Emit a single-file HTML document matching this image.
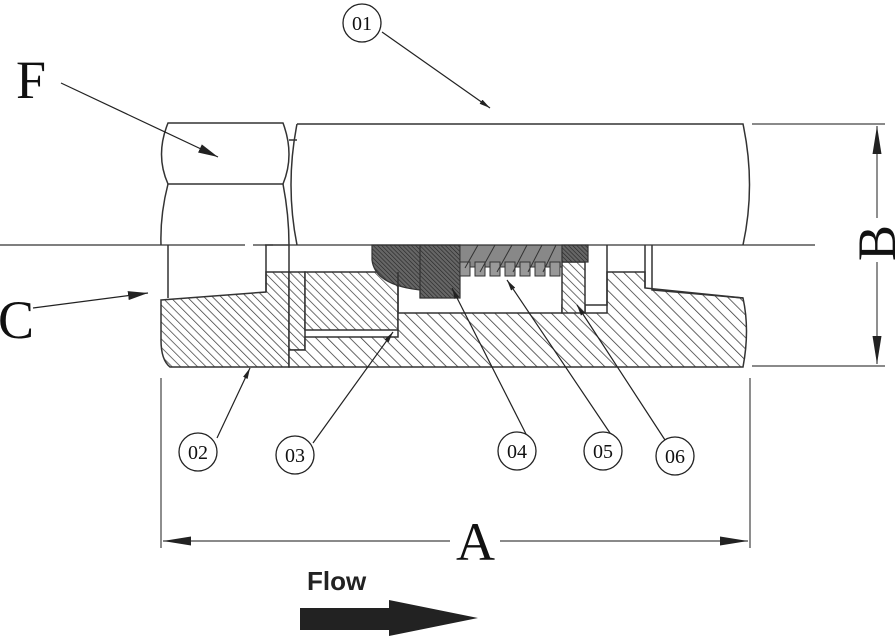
<!DOCTYPE html>
<html><head><meta charset="utf-8"><style>
html,body{margin:0;padding:0;background:#fff;}
svg{display:block;}
</style></head><body>
<svg width="895" height="637" viewBox="0 0 895 637" xmlns="http://www.w3.org/2000/svg">
<defs>
<pattern id="h2" patternUnits="userSpaceOnUse" width="6" height="6" patternTransform="rotate(-45)">
<rect width="6" height="6" fill="#fff"/><line x1="0" y1="0" x2="0" y2="6" stroke="#333" stroke-width="1.4"/></pattern>
<pattern id="h3" patternUnits="userSpaceOnUse" width="8" height="8" patternTransform="rotate(-45)">
<rect width="8" height="8" fill="#fff"/><line x1="0" y1="0" x2="0" y2="8" stroke="#333" stroke-width="1.5"/></pattern>
<pattern id="hd" patternUnits="userSpaceOnUse" width="3" height="3" patternTransform="rotate(-45)">
<rect width="3" height="3" fill="#666"/><line x1="0" y1="0" x2="0" y2="3" stroke="#222" stroke-width="1.2"/></pattern>
<marker id="ar" viewBox="0 0 10 10" refX="10" refY="5" markerWidth="28" markerHeight="9" markerUnits="userSpaceOnUse" orient="auto-start-reverse" preserveAspectRatio="none"><path d="M0,0 L10,5 L0,10 z" fill="#222"/></marker>
<marker id="am" viewBox="0 0 10 10" refX="10" refY="5" markerWidth="20" markerHeight="9" markerUnits="userSpaceOnUse" orient="auto" preserveAspectRatio="none"><path d="M0,0 L10,5 L0,10 z" fill="#222"/></marker>
<marker id="as" viewBox="0 0 10 10" refX="10" refY="5" markerWidth="11" markerHeight="5" markerUnits="userSpaceOnUse" orient="auto" preserveAspectRatio="none"><path d="M0,0 L10,5 L0,10 z" fill="#222"/></marker>
</defs>
<g fill="none" stroke="#333" stroke-width="1.5">
<path d="M168,123 L283,123 Q295,155 283,184 L168,184 Q155,155 168,123 Z"/>
<path d="M168,184 Q160,215 161,245 M283,184 Q289,215 289,245"/>
<path d="M297,124 L743,124 Q756,185 743,245 M297,124 Q285,185 297,245"/>
<line x1="289" y1="140" x2="297" y2="140"/>
</g>
<path d="M161,300 L266,292 L266,272 L289,272 L289,367 L170,367 Q161,360 161,340 Z" fill="url(#h2)" stroke="#333" stroke-width="1.5"/>
<path d="M289,272 L305,272 L305,350 L289,350 Z" fill="url(#h2)" stroke="#333" stroke-width="1.5"/>
<path d="M305,272 L398,272 L398,330 L305,330 Z" fill="url(#h2)" stroke="#333" stroke-width="1.5"/>
<path d="M289,350 L305,350 L305,337 L398,337 L398,313 L562,313 L562,305 L585,305 L585,313 L607,313 L607,272 L645,272 L645,288 L743,298 Q750,330 743,367 L289,367 Z" fill="url(#h3)" stroke="#333" stroke-width="1.5"/>
<path d="M562,262 L585,262 L585,313 L562,313 Z" fill="url(#h2)" stroke="#333" stroke-width="1.5"/>
<path d="M372,245 L460,245 L460,298 L420,298 L420,290 Q375,285 372,260 Z" fill="url(#hd)" stroke="#333" stroke-width="1.2"/>
<line x1="420" y1="245" x2="420" y2="298" stroke="#333" stroke-width="1.2"/>
<rect x="460" y="245" width="102" height="22" fill="#888" stroke="#333" stroke-width="1"/>
<g fill="#999" stroke="#333" stroke-width="1">
<rect x="460" y="262" width="10" height="14"/><rect x="475" y="262" width="10" height="14"/><rect x="490" y="262" width="10" height="14"/><rect x="505" y="262" width="10" height="14"/><rect x="520" y="262" width="10" height="14"/><rect x="535" y="262" width="10" height="14"/><rect x="550" y="262" width="10" height="14"/>
</g>
<path d="M465,268 L478,245 M480,272 L495,245 M497,272 L512,245 M513,272 L527,245 M528,272 L542,245 M543,272 L556,245" stroke="#333" stroke-width="1"/>
<rect x="562" y="245" width="26" height="17" fill="url(#hd)" stroke="#333" stroke-width="1.2"/>
<g fill="none" stroke="#333" stroke-width="1.5">
<path d="M168,245 L168,298 M266,245 L266,292 M289,245 L289,272"/>
<path d="M607,245 L607,305 L585,305"/>
<path d="M645,245 L645,288 M652,245 L652,290 L743,298"/>
<line x1="398" y1="313" x2="398" y2="272"/>
<line x1="265" y1="245" x2="289" y2="245"/>
</g>
<path d="M0,245 L245,245 M253,245 L273,245 M289,245 L815,245" stroke="#333" stroke-width="1.3"/>
<g stroke="#444" stroke-width="1.2" fill="none">
<line x1="161" y1="378" x2="161" y2="548"/>
<line x1="750" y1="378" x2="750" y2="548"/>
<line x1="752" y1="124" x2="885" y2="124"/>
<line x1="752" y1="366" x2="885" y2="366"/>
<line x1="163" y1="541" x2="450" y2="541" marker-start="url(#ar)"/>
<line x1="500" y1="541" x2="748" y2="541" marker-end="url(#ar)"/>
<line x1="877" y1="126" x2="877" y2="218" marker-start="url(#ar)"/>
<line x1="877" y1="262" x2="877" y2="364" marker-end="url(#ar)"/>
</g>
<g stroke="#222" stroke-width="1.2" fill="none">
<line x1="61" y1="83" x2="218" y2="157" marker-end="url(#am)"/>
<line x1="33" y1="308" x2="148" y2="293" marker-end="url(#am)"/>
<line x1="382" y1="32" x2="490" y2="108" marker-end="url(#as)"/>
<line x1="217" y1="438" x2="250" y2="368" marker-end="url(#as)"/>
<line x1="313" y1="443" x2="393" y2="332" marker-end="url(#as)"/>
<line x1="527" y1="436" x2="452" y2="288" marker-end="url(#as)"/>
<line x1="612" y1="436" x2="507" y2="280" marker-end="url(#as)"/>
<line x1="665" y1="440" x2="577" y2="305" marker-end="url(#as)"/>
</g>
<g fill="#fff" stroke="#222" stroke-width="1.3">
<circle cx="362" cy="23" r="19"/><circle cx="198" cy="452" r="19"/><circle cx="295" cy="455" r="19"/>
<circle cx="517" cy="451" r="19"/><circle cx="603" cy="451" r="19"/><circle cx="675" cy="456" r="19"/>
</g>
<g font-family="Liberation Serif, serif" font-size="20" text-anchor="middle" fill="#111">
<text x="362" y="30">01</text><text x="198" y="459">02</text><text x="295" y="462">03</text>
<text x="517" y="458">04</text><text x="603" y="458">05</text><text x="675" y="463">06</text>
</g>
<g font-family="Liberation Serif, serif" font-size="54" fill="#111">
<text x="16" y="98">F</text>
<text x="-2" y="338">C</text>
<text x="456" y="560">A</text>
<text x="0" y="0" transform="translate(895,261) rotate(-90)">B</text>
</g>
<text x="307" y="590" font-family="Liberation Sans, sans-serif" font-weight="bold" font-size="26" fill="#222">Flow</text>
<path d="M300,608 L389,608 L389,600 L478,618 L389,636 L389,630 L300,630 Z" fill="#222"/>
</svg>
</body></html>
